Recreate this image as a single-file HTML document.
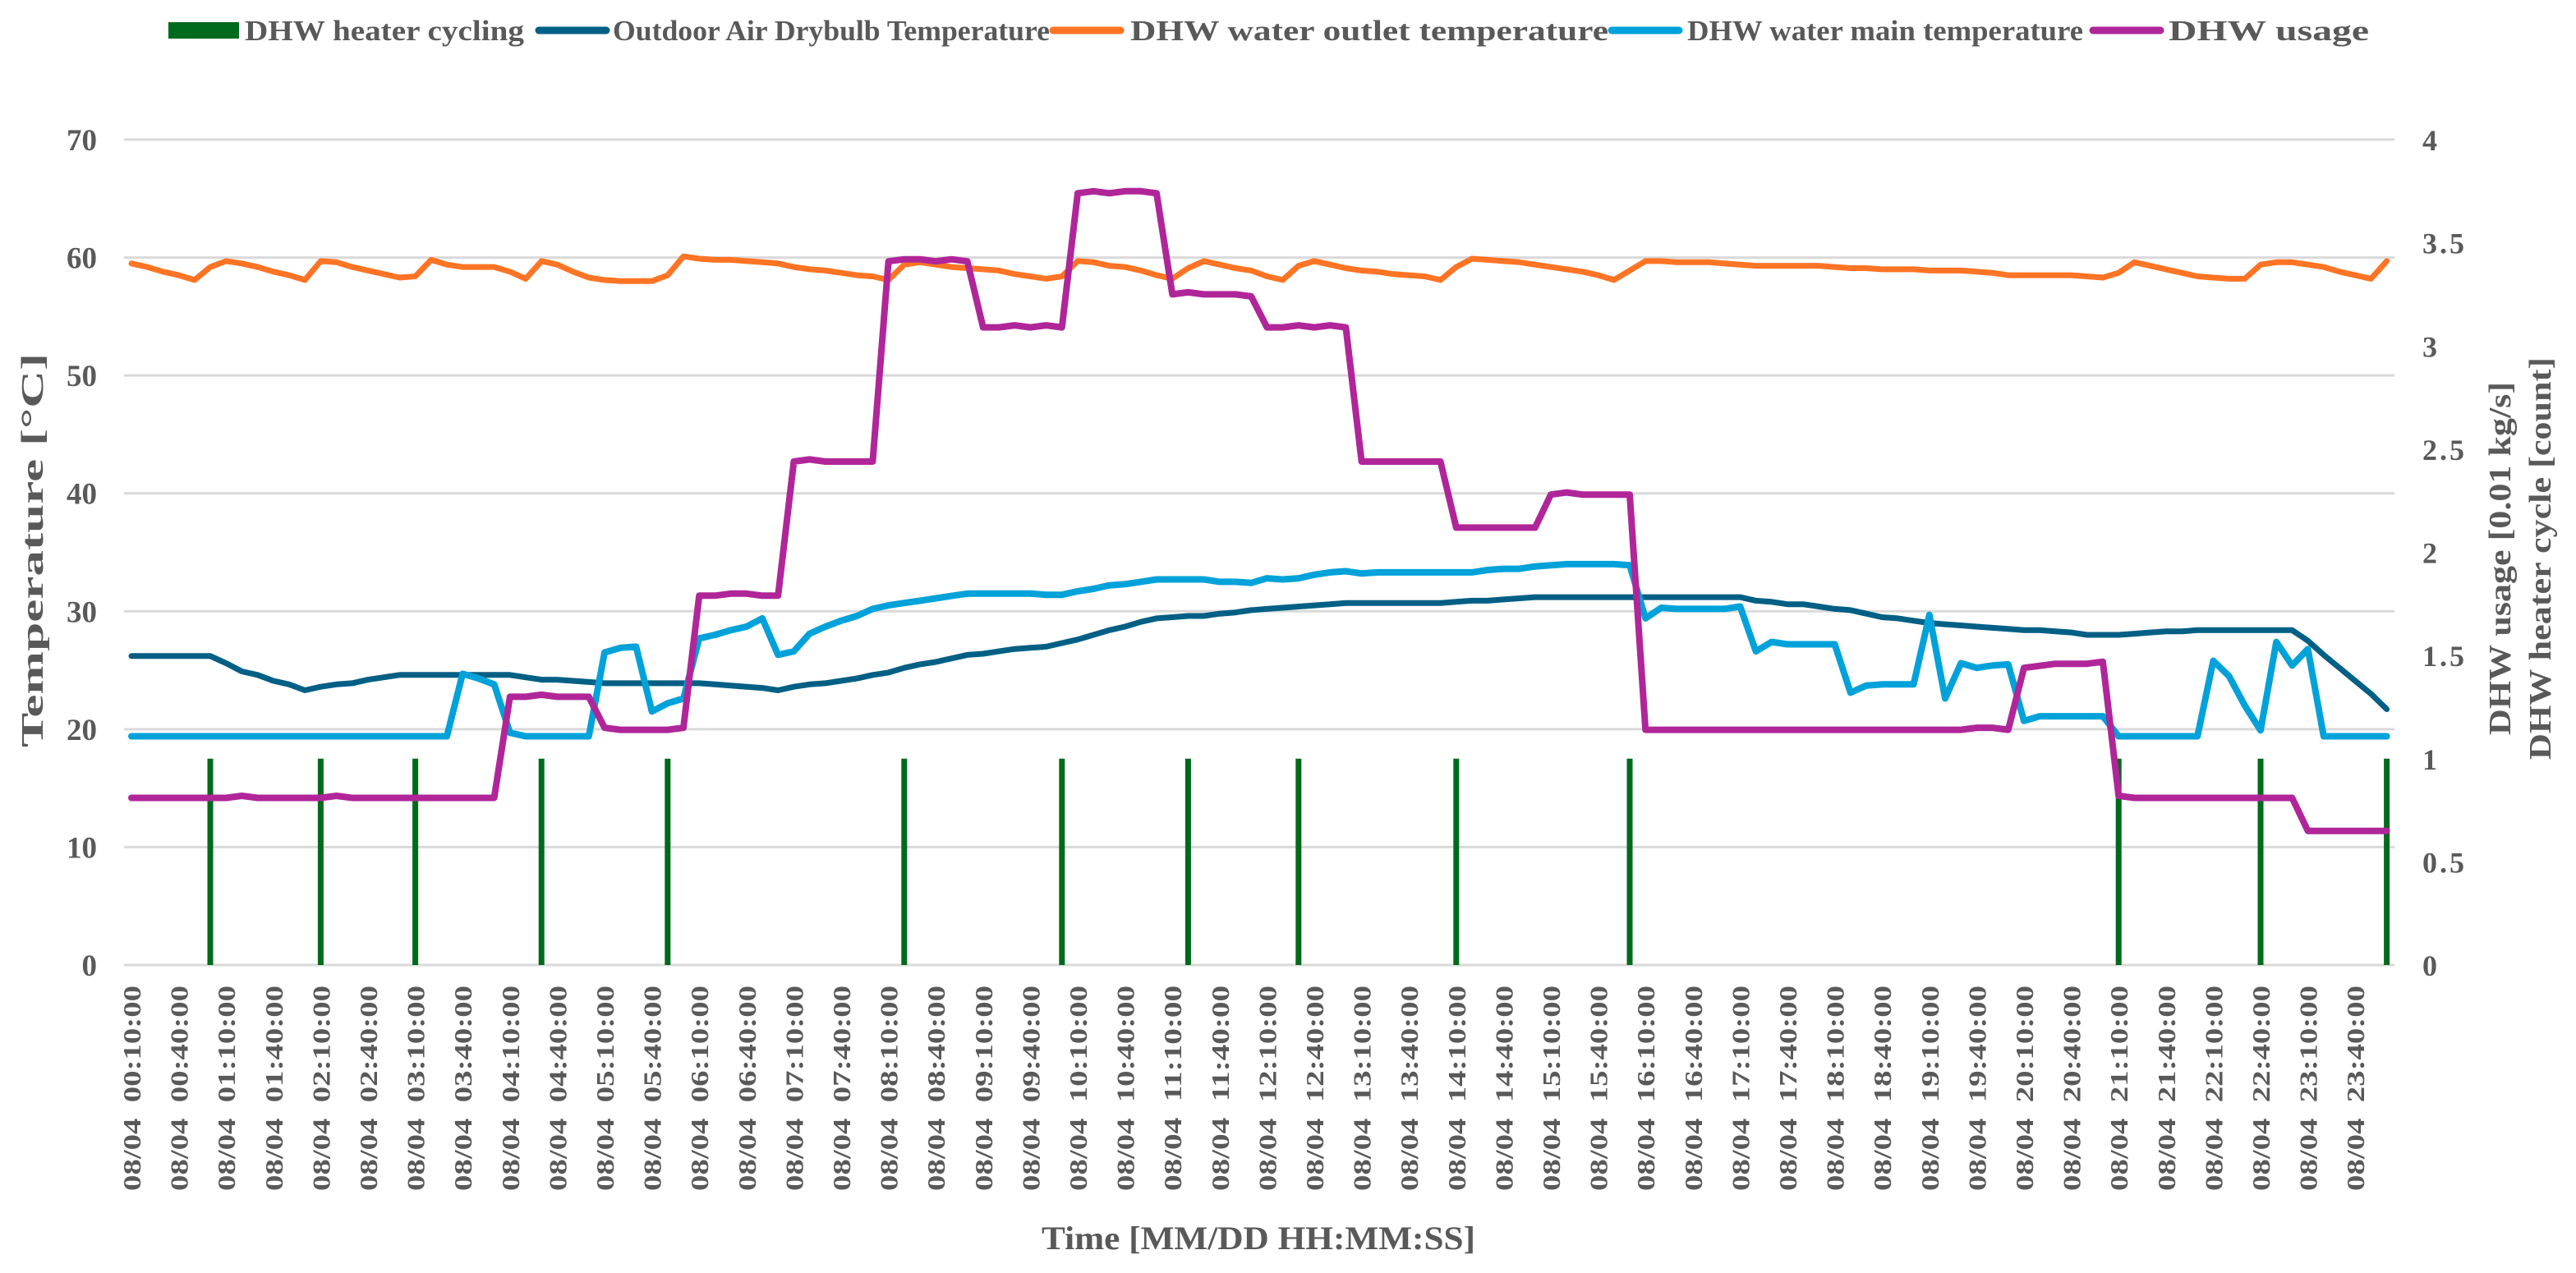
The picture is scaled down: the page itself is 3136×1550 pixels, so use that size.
<!DOCTYPE html>
<html><head><meta charset="utf-8">
<style>
html,body{margin:0;padding:0;background:#fff;}
svg{display:block;}
text{font-family:"Liberation Serif",serif;font-weight:bold;fill:#595959;}
</style></head>
<body>
<svg id="chart" width="3136" height="1550" viewBox="0 0 3136 1550" xmlns="http://www.w3.org/2000/svg">
  <g id="grid"></g>
  <g id="bars"></g>
  <g id="lines"></g>
  <g id="yl"></g>
  <g id="yr"></g>
  <g id="xl"></g>
  <text transform="translate(52,670) rotate(-90)" text-anchor="middle" font-size="38" textLength="480" lengthAdjust="spacingAndGlyphs">Temperature [°C]</text>
  <text transform="translate(3056,680) rotate(-90)" text-anchor="middle" font-size="38" textLength="430" lengthAdjust="spacingAndGlyphs">DHW usage [0.01 kg/s]</text>
  <text transform="translate(3105,680) rotate(-90)" text-anchor="middle" font-size="38" textLength="490" lengthAdjust="spacingAndGlyphs">DHW heater cycle [count]</text>
  <text x="1532" y="1521" text-anchor="middle" font-size="40" textLength="528" lengthAdjust="spacingAndGlyphs">Time [MM/DD HH:MM:SS]</text>
  <g>
    <g>
      <rect x="205" y="27" width="86" height="20" fill="#006a1c"/>
      <text x="298" y="49" font-size="35" textLength="340" lengthAdjust="spacingAndGlyphs">DHW heater cycling</text>
    </g>
    <g>
      <line x1="656" y1="37" x2="738" y2="37" stroke="#005f84" stroke-width="9" stroke-linecap="round"/>
      <text x="746" y="49" font-size="35" textLength="532" lengthAdjust="spacingAndGlyphs">Outdoor Air Drybulb Temperature</text>
    </g>
    <g>
      <line x1="1282" y1="37" x2="1364" y2="37" stroke="#ff7424" stroke-width="9" stroke-linecap="round"/>
      <text x="1376" y="49" font-size="35" textLength="582" lengthAdjust="spacingAndGlyphs">DHW water outlet temperature</text>
    </g>
    <g>
      <line x1="1962" y1="37" x2="2044" y2="37" stroke="#00a2d9" stroke-width="9" stroke-linecap="round"/>
      <text x="2054" y="49" font-size="35" textLength="482" lengthAdjust="spacingAndGlyphs">DHW water main temperature</text>
    </g>
    <g>
      <line x1="2548" y1="37" x2="2630" y2="37" stroke="#b02699" stroke-width="9" stroke-linecap="round"/>
      <text x="2640" y="49" font-size="35" textLength="244" lengthAdjust="spacingAndGlyphs">DHW usage</text>
    </g>
  </g>
</svg>
<script>
const leftTicks = [0,10,20,30,40,50,60,70];
const rightTicks = ["0","0.5","1","1.5","2","2.5","3","3.5","4"];
const outletTemp = [59.5,59.2,58.8,58.5,58.1,59.2,59.7,59.5,59.2,58.8,58.5,58.1,59.7,59.6,59.2,58.9,58.6,58.3,58.4,59.8,59.4,59.2,59.2,59.2,58.8,58.2,59.7,59.4,58.8,58.3,58.1,58.0,58.0,58.0,58.5,60.1,59.9,59.8,59.8,59.7,59.6,59.5,59.2,59.0,58.9,58.7,58.5,58.4,58.1,59.4,59.6,59.4,59.2,59.1,59.0,58.9,58.6,58.4,58.2,58.4,59.7,59.6,59.3,59.2,58.9,58.5,58.2,59.1,59.7,59.4,59.1,58.9,58.4,58.1,59.3,59.7,59.4,59.1,58.9,58.8,58.6,58.5,58.4,58.1,59.2,59.9,59.8,59.7,59.6,59.4,59.2,59.0,58.8,58.5,58.1,58.9,59.7,59.7,59.6,59.6,59.6,59.5,59.4,59.3,59.3,59.3,59.3,59.3,59.2,59.1,59.1,59.0,59.0,59.0,58.9,58.9,58.9,58.8,58.7,58.5,58.5,58.5,58.5,58.5,58.4,58.3,58.7,59.6,59.3,59.0,58.7,58.4,58.3,58.2,58.2,59.4,59.6,59.6,59.4,59.2,58.8,58.5,58.2,59.7];
const outdoorTemp = [26.2,26.2,26.2,26.2,26.2,26.2,25.6,24.9,24.6,24.1,23.8,23.3,23.6,23.8,23.9,24.2,24.4,24.6,24.6,24.6,24.6,24.6,24.6,24.6,24.6,24.4,24.2,24.2,24.1,24.0,23.9,23.9,23.9,23.9,23.9,23.9,23.9,23.8,23.7,23.6,23.5,23.3,23.6,23.8,23.9,24.1,24.3,24.6,24.8,25.2,25.5,25.7,26.0,26.3,26.4,26.6,26.8,26.9,27.0,27.3,27.6,28.0,28.4,28.7,29.1,29.4,29.5,29.6,29.6,29.8,29.9,30.1,30.2,30.3,30.4,30.5,30.6,30.7,30.7,30.7,30.7,30.7,30.7,30.7,30.8,30.9,30.9,31.0,31.1,31.2,31.2,31.2,31.2,31.2,31.2,31.2,31.2,31.2,31.2,31.2,31.2,31.2,31.2,30.9,30.8,30.6,30.6,30.4,30.2,30.1,29.8,29.5,29.4,29.2,29.0,28.9,28.8,28.7,28.6,28.5,28.4,28.4,28.3,28.2,28.0,28.0,28.0,28.1,28.2,28.3,28.3,28.4,28.4,28.4,28.4,28.4,28.4,28.4,27.5,26.3,25.2,24.1,23.0,21.7];
const mainTemp = [19.4,19.4,19.4,19.4,19.4,19.4,19.4,19.4,19.4,19.4,19.4,19.4,19.4,19.4,19.4,19.4,19.4,19.4,19.4,19.4,19.4,24.7,24.3,23.8,19.7,19.4,19.4,19.4,19.4,19.4,26.5,26.9,27.0,21.5,22.2,22.6,27.7,28.0,28.4,28.7,29.4,26.3,26.6,28.1,28.7,29.2,29.6,30.2,30.5,30.7,30.9,31.1,31.3,31.5,31.5,31.5,31.5,31.5,31.4,31.4,31.7,31.9,32.2,32.3,32.5,32.7,32.7,32.7,32.7,32.5,32.5,32.4,32.8,32.7,32.8,33.1,33.3,33.4,33.2,33.3,33.3,33.3,33.3,33.3,33.3,33.3,33.5,33.6,33.6,33.8,33.9,34.0,34.0,34.0,34.0,33.9,29.4,30.3,30.2,30.2,30.2,30.2,30.4,26.6,27.4,27.2,27.2,27.2,27.2,23.1,23.7,23.8,23.8,23.8,29.7,22.6,25.6,25.2,25.4,25.5,20.7,21.1,21.1,21.1,21.1,21.1,19.4,19.4,19.4,19.4,19.4,19.4,25.8,24.5,22.0,19.9,27.4,25.4,26.8,19.4,19.4,19.4,19.4,19.4];
const dhwUsage = [0.81,0.81,0.81,0.81,0.81,0.81,0.81,0.82,0.81,0.81,0.81,0.81,0.81,0.82,0.81,0.81,0.81,0.81,0.81,0.81,0.81,0.81,0.81,0.81,1.30,1.30,1.31,1.30,1.30,1.30,1.15,1.14,1.14,1.14,1.14,1.15,1.79,1.79,1.80,1.80,1.79,1.79,2.44,2.45,2.44,2.44,2.44,2.44,3.41,3.42,3.42,3.41,3.42,3.41,3.09,3.09,3.10,3.09,3.10,3.09,3.74,3.75,3.74,3.75,3.75,3.74,3.25,3.26,3.25,3.25,3.25,3.24,3.09,3.09,3.10,3.09,3.10,3.09,2.44,2.44,2.44,2.44,2.44,2.44,2.12,2.12,2.12,2.12,2.12,2.12,2.28,2.29,2.28,2.28,2.28,2.28,1.14,1.14,1.14,1.14,1.14,1.14,1.14,1.14,1.14,1.14,1.14,1.14,1.14,1.14,1.14,1.14,1.14,1.14,1.14,1.14,1.14,1.15,1.15,1.14,1.44,1.45,1.46,1.46,1.46,1.47,0.82,0.81,0.81,0.81,0.81,0.81,0.81,0.81,0.81,0.81,0.81,0.81,0.65,0.65,0.65,0.65,0.65,0.65];
const heaterCycles = [0,0,0,0,0,1,0,0,0,0,0,0,1,0,0,0,0,0,1,0,0,0,0,0,0,0,1,0,0,0,0,0,0,0,1,0,0,0,0,0,0,0,0,0,0,0,0,0,0,1,0,0,0,0,0,0,0,0,0,1,0,0,0,0,0,0,0,1,0,0,0,0,0,0,1,0,0,0,0,0,0,0,0,0,1,0,0,0,0,0,0,0,0,0,0,1,0,0,0,0,0,0,0,0,0,0,0,0,0,0,0,0,0,0,0,0,0,0,0,0,0,0,0,0,0,0,1,0,0,0,0,0,0,0,0,1,0,0,0,0,0,0,0,1];
const categories = [];
for (let m = 10; m <= 1440; m += 10) {
  const h = String(Math.floor(m/60)).padStart(2,'0'), mm = String(m%60).padStart(2,'0');
  categories.push("08/04\u00a0\u00a0" + h + ":" + mm + ":00");
}

const NS = "http://www.w3.org/2000/svg";
const X0 = 160, DX = 19.2, Y0 = 1175, YTOP = 170;
const xPos = i => X0 + i * DX;
const yTemp = v => Y0 - (Y0 - YTOP) * v / 70;
const yRight = v => Y0 - (Y0 - YTOP) * v / 4;
function mk(tag, attrs, parent) {
  const e = document.createElementNS(NS, tag);
  for (const k in attrs) e.setAttribute(k, attrs[k]);
  parent.appendChild(e);
  return e;
}
const grid = document.getElementById('grid');
leftTicks.forEach(t => {
  const l = mk('line', {x1: 151, x2: 2915, y1: yTemp(t), y2: yTemp(t), stroke: '#d9d9d9', 'stroke-width': 3}, grid);
  
  
});
const yl = document.getElementById('yl');
leftTicks.forEach(t => {
  const tx = mk('text', {x: 118, y: yTemp(t) + 13, 'text-anchor': 'end', 'font-size': 37}, yl);
  tx.textContent = t;
  
  
});
const yr = document.getElementById('yr');
rightTicks.forEach(t => {
  const tx = mk('text', {x: 2949, y: yRight(parseFloat(t)) + 13, 'font-size': 36, 'letter-spacing': 3}, yr);
  tx.textContent = t;
  
  
});
const xl = document.getElementById('xl');
categories.forEach((c, i) => {
  if (i % 3 !== 0) return;
  const x = xPos(i);
  const tx = mk('text', {transform: `translate(${x + 11},1200) rotate(-90)`, 'text-anchor': 'end', 'font-size': 31, textLength: 250, lengthAdjust: 'spacingAndGlyphs'}, xl);
  tx.textContent = c;
  
  
});
const bars = document.getElementById('bars');
heaterCycles.forEach((v, i) => {
  if (!v) return;
  const r = mk('rect', {x: xPos(i) - 3.5, y: yRight(v), width: 7, height: Y0 - yRight(v), fill: '#006a1c'}, bars);
  
  
});
const lines = document.getElementById('lines');
function series(vals, yf, color, w, name) {
  const d = vals.map((v, i) => (i ? 'L' : 'M') + xPos(i).toFixed(1) + ',' + yf(v).toFixed(1)).join('');
  const p = mk('path', {d: d, fill: 'none', stroke: color, 'stroke-width': w, 'stroke-linejoin': 'round', 'stroke-linecap': 'round'}, lines);
  
  
}
series(outdoorTemp, yTemp, '#005f84', 7, 'outdoor-temp-line');
series(outletTemp, yTemp, '#ff7424', 7, 'outlet-temp-line');
series(mainTemp, yTemp, '#00a2d9', 8, 'main-temp-line');
series(dhwUsage, yRight, '#b02699', 8, 'dhw-usage-line');
</script>
</body></html>
